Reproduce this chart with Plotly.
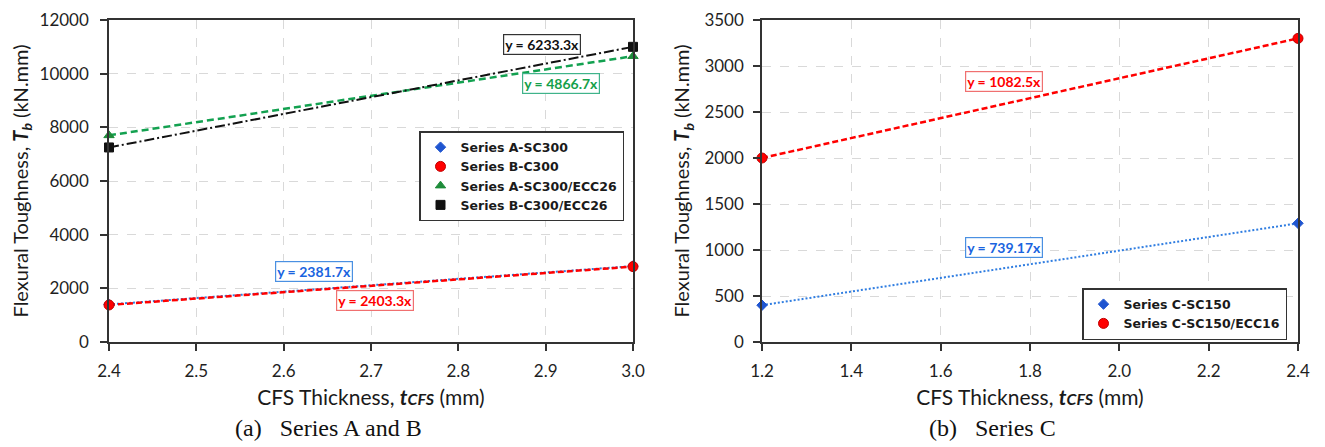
import plotly.graph_objects as go

# ---------------- data ----------------
# Panel (a): Series A and B
x_ab = [2.4, 3.0]
a_sc300 = [1400, 2830]
b_c300 = [1380, 2810]
a_sc300_ecc26 = [7700, 10650]
b_c300_ecc26 = [7250, 11000]

# Panel (b): Series C
x_c = [1.2, 2.4]
c_sc150 = [400, 1290]
c_sc150_ecc16 = [2000, 3300]

# axis ticks
xticks_ab = [2.4, 2.5, 2.6, 2.7, 2.8, 2.9, 3.0]
yticks_ab = [0, 2000, 4000, 6000, 8000, 10000, 12000]
xticks_c = [1.2, 1.4, 1.6, 1.8, 2.0, 2.2, 2.4]
yticks_c = [0, 500, 1000, 1500, 2000, 2500, 3000, 3500]

# trendline equation labels (text, x, y, text colour, border colour)
eq_ab = [("y = 6233.3x", 2.896, 11077, "#111111", "#333333"),
         ("y = 4866.7x", 2.918, 9637, "#14a04a", "#3fb38a"),
         ("y = 2381.7x", 2.635, 2640, "#1a64e0", "#4a90e2"),
         ("y = 2403.3x", 2.705, 1532, "#ff0000", "#f07070")]
eq_c = [("y = 1082.5x", 1.7407, 2832, "#ff0000", "#f07070"),
        ("y = 739.17x", 1.7407, 1028, "#1a64e0", "#4a90e2")]

BLUE = "#1f55d0"
BLUE_LINE = "#2f7de1"
RED = "#ff0000"
GREEN = "#1e8c3a"
GREEN_LINE = "#13a150"
BLACK = "#111111"

fig = go.Figure()

def trend(x, y, color, dash, width, xa, ya):
    fig.add_trace(go.Scatter(x=x, y=y, mode="lines", showlegend=False,
                             line=dict(color=color, dash=dash, width=width),
                             xaxis=xa, yaxis=ya, hoverinfo="skip", cliponaxis=False))

def pts(x, y, name, color, symbol, size, xa, ya, legend, lc=None):
    fig.add_trace(go.Scatter(x=x, y=y, mode="markers", name=name, legend=legend,
                             marker=dict(color=color, symbol=symbol, size=size,
                                         line=dict(color=lc or color, width=1)),
                             xaxis=xa, yaxis=ya, cliponaxis=False))

# panel (a) lines
trend(x_ab, a_sc300, BLUE_LINE, "2px,2px", 2, "x", "y")
trend(x_ab, b_c300, RED, "6px,3px", 2.5, "x", "y")
trend(x_ab, a_sc300_ecc26, GREEN_LINE, "7px,4px", 2.5, "x", "y")
trend(x_ab, b_c300_ecc26, BLACK, "10px,3px,2px,3px", 2, "x", "y")
# panel (a) markers
pts(x_ab, a_sc300, "Series A-SC300", BLUE, "diamond", 8, "x", "y", "legend")
pts(x_ab, b_c300, "Series B-C300", RED, "circle", 10, "x", "y", "legend", "#c00000")
pts(x_ab, a_sc300_ecc26, "Series A-SC300/ECC26", GREEN, "triangle-up", 9, "x", "y", "legend")
pts(x_ab, b_c300_ecc26, "Series B-C300/ECC26", BLACK, "square", 9, "x", "y", "legend")

# panel (b)
trend(x_c, c_sc150, BLUE_LINE, "2px,2px", 2, "x2", "y2")
trend(x_c, c_sc150_ecc16, RED, "6px,3px", 2.5, "x2", "y2")
pts(x_c, c_sc150, "Series C-SC150", BLUE, "diamond", 8, "x2", "y2", "legend2")
pts(x_c, c_sc150_ecc16, "Series C-SC150/ECC16", RED, "circle", 10, "x2", "y2", "legend2", "#c00000")

# page body has an 8px margin: size the figure to fit the window
OFF = 8
W, H = 1325 - OFF, 447 - OFF
def px(v): return (v - OFF) / W
def py(v): return 1 - (v - OFF) / H

FONT = "Lato, 'Open Sans', sans-serif"
TICKF = dict(family=FONT, size=17, color="#1f1f1f")
XTITLEF = dict(family=FONT, size=21, color="#1a1a1a")
YTITLEF = dict(family=FONT, size=20, color="#1a1a1a")
LEGF = dict(family="'DejaVu Sans', sans-serif", size=12.5, color="#1a1a1a", weight="bold")

common = dict(showline=True, linecolor="#333333", linewidth=1.5, mirror=True,
              ticks="outside", ticklen=7, tickcolor="#333333", tickwidth=1.5,
              showgrid=True, gridcolor="#d9d9d9", griddash="dash", gridwidth=1,
              zeroline=False, tickfont=TICKF, automargin=False, tickmode="array",
              ticklabeloverflow="allow")

ytitle = "Flexural Toughness, <b><i>T<sub>b</sub></i></b> (kN.mm)"
xtitle = "CFS Thickness, <b><i>t<span style='font-size:16px'>CFS</span></i></b> (mm)"

TOP = 20
fig.update_layout(
    width=W, height=H, margin=dict(l=0, r=0, t=0, b=0, pad=0),
    paper_bgcolor="white", plot_bgcolor="white",
    xaxis=dict(domain=[px(109), px(633)], range=[xticks_ab[0], xticks_ab[-1]],
               tickvals=xticks_ab, ticktext=[f"{v:.1f}" for v in xticks_ab],
               ticklabelstandoff=6,
               anchor="y", title=dict(text=xtitle, font=XTITLEF, standoff=10), **common),
    yaxis=dict(domain=[py(342), py(TOP)], range=[yticks_ab[0], yticks_ab[-1]],
               tickvals=yticks_ab, ticktext=[str(v) for v in yticks_ab],
               ticklabelstandoff=8,
               anchor="x", title=dict(text=ytitle, font=YTITLEF, standoff=9), **common),
    xaxis2=dict(domain=[px(762), px(1298)], range=[xticks_c[0], xticks_c[-1]],
                tickvals=xticks_c, ticktext=[f"{v:.1f}" for v in xticks_c],
                ticklabelstandoff=6,
                anchor="y2", title=dict(text=xtitle, font=XTITLEF, standoff=10), **common),
    yaxis2=dict(domain=[py(342), py(TOP)], range=[yticks_c[0], yticks_c[-1]],
                tickvals=yticks_c, ticktext=[str(v) for v in yticks_c],
                ticklabelstandoff=6,
                anchor="x2", title=dict(text=ytitle, font=YTITLEF, standoff=9), **common),
    legend=dict(x=px(624), y=py(131), xanchor="right", yanchor="top",
                bgcolor="white", bordercolor="#333333", borderwidth=1.5,
                font=LEGF, itemwidth=30, tracegroupgap=0),
    legend2=dict(x=px(1287), y=py(288), xanchor="right", yanchor="top",
                 bgcolor="white", bordercolor="#333333", borderwidth=1.5,
                 font=LEGF, itemwidth=30, tracegroupgap=0),
)

anns = []
for txt, x, y, c, bc in eq_ab:
    anns.append(dict(text=f"<b>{txt}</b>", x=x, y=y, xref="x", yref="y", showarrow=False,
                     xanchor="center", yanchor="middle",
                     font=dict(family=FONT, size=14, color=c), bgcolor="white",
                     bordercolor=bc, borderwidth=1.2, borderpad=1))
for txt, x, y, c, bc in eq_c:
    anns.append(dict(text=f"<b>{txt}</b>", x=x, y=y, xref="x2", yref="y2", showarrow=False,
                     xanchor="center", yanchor="middle",
                     font=dict(family=FONT, size=14, color=c), bgcolor="white",
                     bordercolor=bc, borderwidth=1.2, borderpad=1))
CAP = dict(family="'Liberation Serif', 'Times New Roman', serif", size=24, color="#111111")
anns.append(dict(text="(a)\u00a0\u00a0\u00a0Series A and B", x=px(328), y=py(428),
                 xref="paper", yref="paper", showarrow=False, font=CAP,
                 xanchor="center", yanchor="middle"))
anns.append(dict(text="(b)\u00a0\u00a0\u00a0Series C", x=px(992), y=py(428),
                 xref="paper", yref="paper", showarrow=False, font=CAP,
                 xanchor="center", yanchor="middle"))
fig.update_layout(annotations=anns)

fig.write_html("out.html")
